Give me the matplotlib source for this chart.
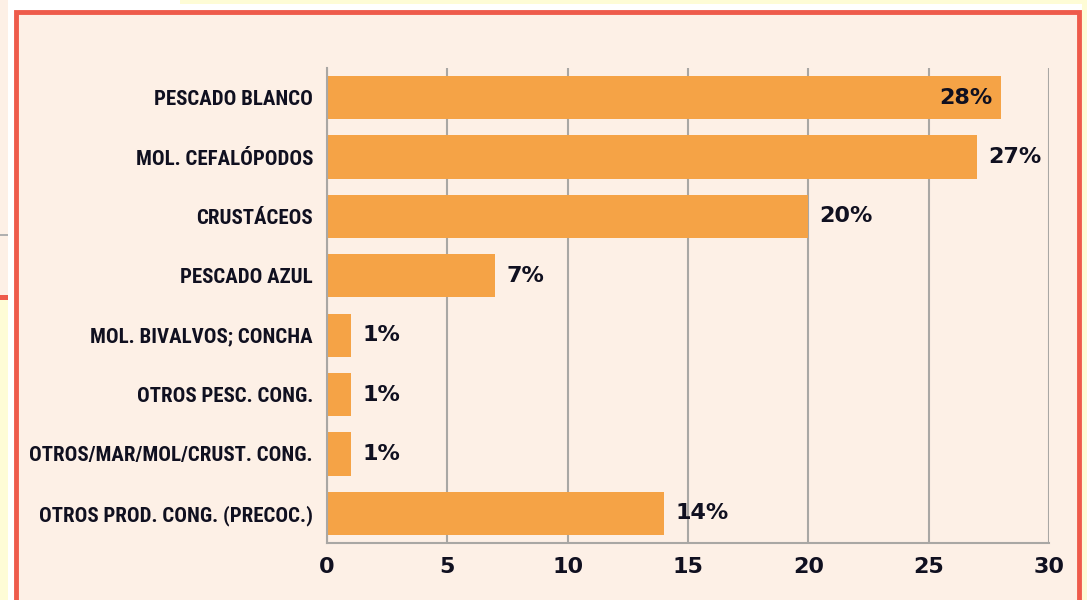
import matplotlib
matplotlib.use("Agg")
import matplotlib.pyplot as plt
from matplotlib.patches import Rectangle
from matplotlib import font_manager

categories = [
    "PESCADO BLANCO",
    "MOL. CEFALÓPODOS",
    "CRUSTÁCEOS",
    "PESCADO AZUL",
    "MOL. BIVALVOS; CONCHA",
    "OTROS PESC. CONG.",
    "OTROS/MAR/MOL/CRUST. CONG.",
    "OTROS PROD. CONG. (PRECOC.)",
]
values = [28, 27, 20, 7, 1, 1, 1, 14]
value_labels = ["28%", "27%", "20%", "7%", "1%", "1%", "1%", "14%"]
xticks = [0, 5, 10, 15, 20, 25, 30]

W, H = 1087, 600
PEACH = "#fdf0e6"
YELLOW = "#fefcd6"
RED = "#ee5b4b"
BAR = "#f5a346"
GRID = "#a9a7a4"
TXT = "#101020"

names = {f.name for f in font_manager.fontManager.ttflist}
label_family = ["Liberation Sans Narrow"] if "Liberation Sans Narrow" in names else ["Roboto Condensed", "Liberation Sans"]

fig = plt.figure(figsize=(W / 100, H / 100), dpi=100)
fig.patch.set_facecolor("white")

def prect(x0, y0, x1, y1, **kw):
    fig.patches.append(Rectangle((x0 / W, 1 - y1 / H), (x1 - x0) / W, (y1 - y0) / H,
                                 transform=fig.transFigure, figure=fig, zorder=-5, **kw))

# surrounding page fragments
prect(180, 0, W, 4, facecolor=YELLOW, edgecolor="none")
prect(0, 0, 8, 296, facecolor=PEACH, edgecolor="none")
prect(0, 234, 8, 236, facecolor="#b0b0b0", edgecolor="none")
prect(0, 295, 8, 300, facecolor=RED, edgecolor="none")
prect(0, 300, 8, H, facecolor=YELLOW, edgecolor="none")
prect(1082, 0, W, H, facecolor=YELLOW, edgecolor="none")
# red framed panel
prect(16, 12, 1079, H + 10, facecolor=PEACH, edgecolor=RED, linewidth=3.5)

ax = fig.add_axes([327 / W, 1 - 543 / H, (1049 - 327) / W, (543 - 68) / H])
ax.set_facecolor("none")

ypos = list(range(len(categories)))
ax.barh(ypos, values, height=0.73, color=BAR, zorder=2)
ax.set_ylim(len(categories) - 0.5, -0.5)
ax.set_xlim(0, 30)
ax.set_xticks(xticks)
ax.set_xticklabels([str(t) for t in xticks])
ax.set_yticks(ypos)
ax.set_yticklabels(categories)

for lbl in ax.get_yticklabels():
    lbl.set_fontfamily(label_family)
    lbl.set_fontweight("bold")
    lbl.set_fontsize(15)
    lbl.set_color(TXT)
for lbl in ax.get_xticklabels():
    lbl.set_fontfamily(["DejaVu Sans"])
    lbl.set_fontweight("bold")
    lbl.set_fontsize(16)
    lbl.set_color(TXT)

ax.tick_params(axis="y", length=0, pad=10)
ax.tick_params(axis="x", length=0, pad=10)

ax.grid(axis="x", color=GRID, linewidth=1.5, zorder=0)
ax.set_axisbelow(True)
for s in ["top", "right"]:
    ax.spines[s].set_visible(False)
for s in ["left", "bottom"]:
    ax.spines[s].set_color(GRID)
    ax.spines[s].set_linewidth(1.5)

for i, (v, t) in enumerate(zip(values, value_labels)):
    if v >= 28:
        ax.annotate(t, (v, i), xytext=(-6, 0), textcoords="offset points",
                    ha="right", va="center", fontsize=16, fontweight="bold",
                    color=TXT, zorder=3)
    else:
        ax.annotate(t, (v, i), xytext=(8, 0), textcoords="offset points",
                    ha="left", va="center", fontsize=16, fontweight="bold",
                    color=TXT, zorder=3)

fig.savefig("out.png", dpi=100, facecolor=fig.get_facecolor())
